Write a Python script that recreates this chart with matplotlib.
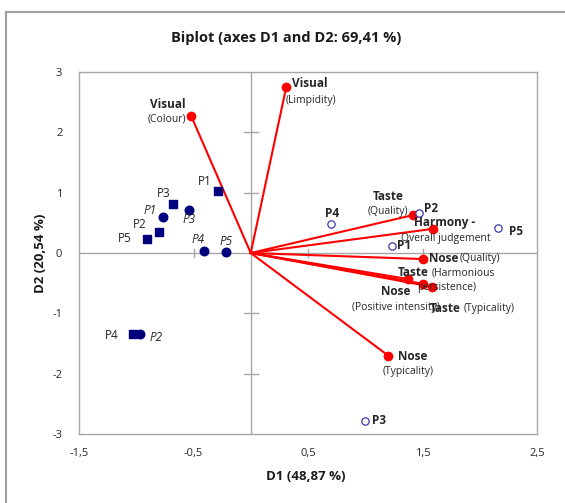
import matplotlib
matplotlib.use("Agg")
import matplotlib.pyplot as plt
from matplotlib.lines import Line2D

plt.rcParams["font.family"] = ["Open Sans", "DejaVu Sans"]

# Variables (loadings scaled)
var_names = ["Visual", "Visual", "Taste", "Harmony -", "Nose", "Taste", "Nose", "Taste", "Nose"]
var_subs = ["(Colour)", "(Limpidity)", "(Quality)", "Overall judgement", "(Quality)",
            "(Harmonious", "(Positive intensity)", "(Typicality)", "(Typicality)"]
var_x = [-0.52, 0.31, 1.42, 1.59, 1.50, 1.50, 1.37, 1.58, 1.20]
var_y = [2.27, 2.75, 0.63, 0.40, -0.10, -0.51, -0.43, -0.56, -1.70]

# Observations (bold labels, open circles)
obs_labels = ["P1", "P2", "P3", "P4", "P5"]
obs_x = [1.23, 1.47, 1.00, 0.70, 2.16]
obs_y = [0.12, 0.66, -2.78, 0.48, 0.41]

# Supplementary points (squares)
sq_labels = ["P1", "P2", "P3", "P4", "P5"]
sq_x = [-0.29, -0.80, -0.68, -1.03, -0.91]
sq_y = [1.03, 0.35, 0.81, -1.34, 0.24]

# Supplementary points (filled circles, italic labels)
ci_labels = ["P1", "P2", "P3", "P4", "P5"]
ci_x = [-0.77, -0.97, -0.54, -0.41, -0.22]
ci_y = [0.59, -1.34, 0.72, 0.04, 0.01]

x_ticks = [-1.5, -0.5, 0.5, 1.5, 2.5]
y_ticks = [-3, -2, -1, 0, 1, 2, 3]

fig = plt.figure(figsize=(5.65, 5.03), dpi=100)
W, H = 565, 503
ax = fig.add_axes([79 / W, 1 - 434 / H, (537 - 79) / W, (434 - 72) / H])

ax.set_xlim(-1.5, 2.5)
ax.set_ylim(-3, 3)

# axes through origin
ax.axhline(0, color="#a6a6a6", lw=1, zorder=1)
ax.axvline(0, color="#a6a6a6", lw=1, zorder=1)
for t in [-0.5, 0.5, 1.5]:
    ax.plot([t, t], [-0.06, 0.06], color="#a6a6a6", lw=1, zorder=1)
for t in [-2, -1, 1, 2]:
    ax.plot([-0.06, 0.06], [t, t], color="#a6a6a6", lw=1, zorder=1)

# vectors
for x, y in zip(var_x, var_y):
    ax.plot([0, x], [0, y], color="red", lw=1.5, zorder=2)
ax.scatter(var_x, var_y, s=36, color="red", zorder=3)

ax.scatter(obs_x, obs_y, s=28, facecolors="white", edgecolors="#3a3aa8", lw=0.9, zorder=4)
ax.scatter(sq_x, sq_y, s=30, marker="s", color="#00007f", zorder=4)
ax.scatter(ci_x, ci_y, s=38, marker="o", color="#00007f", zorder=4)

bold_fs = 8.5
sub_fs = 7.5
pt_fs = 8.5


def label(x, y, text, dx, dy, ha="center", **kw):
    ax.annotate(text, (x, y), xytext=(dx, dy), textcoords="offset pixels",
                ha=ha, va="center", color="#262626", zorder=5, **kw)


# variable labels: (name dx, dy, ha), (sub dx, dy, ha)
var_offsets = [
    ((-23, 12, "center"), (-24, -3, "center")),
    ((24, 4, "center"), (25, -13, "center")),
    ((-25, 18, "center"), (-25, 3, "center")),
    ((12, 6, "center"), (13, -10, "center")),
    ((6, 1, "left"), (37, 1, "left")),
    ((-25, 11, "left"), (9, 11, "left")),
    ((-12, -13, "center"), (-56, -29, "left")),
    ((-2, -22, "left"), (32, -22, "left")),
    ((25, -1, "center"), (20, -16, "center")),
]
for i, (x, y) in enumerate(zip(var_x, var_y)):
    (ndx, ndy, nha), (sdx, sdy, sha) = var_offsets[i]
    label(x, y, var_names[i], ndx, ndy, ha=nha, fontsize=bold_fs, fontweight="bold")
    label(x, y, var_subs[i], sdx, sdy, ha=sha, fontsize=sub_fs)
# second line of "Taste (Harmonious persistence)"
label(var_x[5], var_y[5], "persistence)", 24, -4, fontsize=sub_fs)

obs_offsets = [(5, 0, "left"), (5, 5, "left"), (7, 0, "left"), (1, 11, "center"), (11, -3, "left")]
for (x, y, t), (dx, dy, ha) in zip(zip(obs_x, obs_y, obs_labels), obs_offsets):
    label(x, y, t, dx, dy, ha=ha, fontsize=pt_fs, fontweight="bold")

sq_offsets = [(-13, 9), (-19, 7), (-9, 11), (-21, -2), (-22, 0)]
for (x, y, t), (dx, dy) in zip(zip(sq_x, sq_y, sq_labels), sq_offsets):
    label(x, y, t, dx, dy, fontsize=pt_fs)

ci_offsets = [(-13, 7), (16, -4), (0, -10), (-6, 11), (1, 11)]
for (x, y, t), (dx, dy) in zip(zip(ci_x, ci_y, ci_labels), ci_offsets):
    label(x, y, t, dx, dy, fontsize=pt_fs, fontstyle="italic")

ax.set_xticks(x_ticks)
ax.set_yticks(y_ticks)
ax.set_xticklabels([f"{t:g}".replace(".", ",") for t in x_ticks], fontsize=8, color="#262626")
ax.set_yticklabels([f"{t:g}" for t in y_ticks], fontsize=8, color="#262626")
ax.tick_params(axis="x", length=0, pad=10)
ax.tick_params(axis="y", length=0, pad=12)
for s in ax.spines.values():
    s.set_color("#a6a6a6")
    s.set_linewidth(1)

fig.text(286 / W, 1 - 38 / H, "Biplot (axes D1 and D2: 69,41 %)", ha="center", va="center",
         fontsize=10.5, fontweight="bold", color="#1a1a1a")
fig.text(306 / W, 1 - 477 / H, "D1 (48,87 %)", ha="center", va="center",
         fontsize=9.5, fontweight="bold", color="#1a1a1a")
fig.text(40 / W, 1 - 253 / H, "D2 (20,54 %)", ha="center", va="center", rotation=90,
         fontsize=9.5, fontweight="bold", color="#1a1a1a")

# outer chart border (left and top visible)
fig.add_artist(Line2D([6 / W, 6 / W], [0, 1 - 12 / H], color="#a0a0a0", lw=1.5))
fig.add_artist(Line2D([6 / W, 1], [1 - 12 / H, 1 - 12 / H], color="#a0a0a0", lw=1.5))

fig.savefig("out.png", dpi=100)
